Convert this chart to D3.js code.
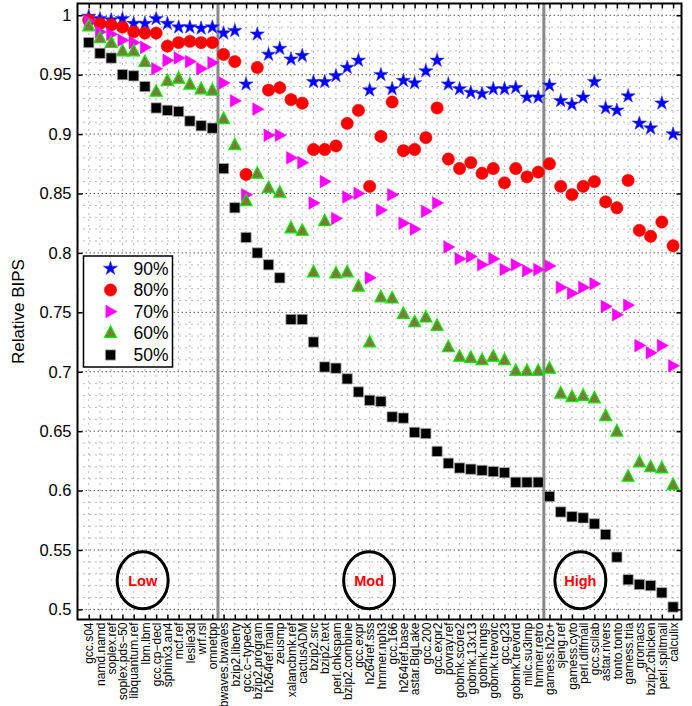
<!DOCTYPE html>
<html>
<head>
<meta charset="utf-8">
<script src="https://d3js.org/d3.v7.min.js"></script>
<style>
  body { margin: 0; background: #fff; }
  text { font-family: "Liberation Sans", Arial, sans-serif; }
</style>
</head>
<body>
<div id="chart"></div>
<script>

// benchmark names, left to right
var categories = ["gcc.s04", "namd.namd", "soplex.ref", "soplex.pds\u221250", "libquantum.ref", "lbm.lbm",
  "gcc.cp\u2212decl", "sphinx3.an4", "mcf.ref", "leslie3d", "wrf.rsl", "omnetpp",
  "bwaves.bwaves", "bzip2.liberty", "gcc.c\u2212typeck", "bzip2.program", "h264ref.main", "zeusmp",
  "xalancbmk.ref", "cactusADM", "bzip2.src", "bzip2.text", "perl.chkspam", "bzip2.combine",
  "gcc.expr", "h264ref.sss", "hmmer.nph3", "gcc.166", "h264ref.base", "astar.BigLake",
  "gcc.200", "gcc.expr2", "povray.ref", "gobmk.score2", "gobmk.13x13", "gobmk.nngs",
  "gobmk.trevorc", "gcc.g23", "gobmk.trevord", "milc.su3imp", "hmmer.retro",
  "gamess.h2o+", "sjeng.ref", "gamess.cyto", "perl.diffmail", "gcc.scilab", "astar.rivers",
  "tonto.tonto", "gamess.tria", "gromacs", "bzip2.chicken", "perl.splitmail", "calculix"];

var bips90 = [0.999, 0.997, 0.996, 0.997, 0.993, 0.993, 0.997, 0.993, 0.990, 0.990, 0.989, 0.990,
  0.985, 0.987, 0.942, 0.984, 0.967, 0.972, 0.963, 0.966, 0.944, 0.944, 0.949, 0.956,
  0.962, 0.937, 0.950, 0.938, 0.945, 0.943, 0.953, 0.962, 0.942, 0.938, 0.935, 0.934,
  0.938, 0.938, 0.939, 0.931, 0.931, 0.941, 0.928, 0.925, 0.931, 0.944, 0.922, 0.920,
  0.932, 0.909, 0.905, 0.926, 0.900];

var bips80 = [0.996, 0.993, 0.992, 0.990, 0.986, 0.985, 0.985, 0.974, 0.977, 0.978, 0.977, 0.977,
  0.967, 0.961, 0.866, 0.956, 0.937, 0.939, 0.929, 0.926, 0.887, 0.887, 0.890, 0.909,
  0.920, 0.856, 0.898, 0.927, 0.886, 0.887, 0.897, 0.922, 0.879, 0.871, 0.876, 0.867,
  0.871, 0.859, 0.871, 0.864, 0.868, 0.875, 0.856, 0.849, 0.856, 0.860, 0.843, 0.838,
  0.861, 0.819, 0.814, 0.826, 0.806];

var bips70 = [0.995, 0.986, 0.984, 0.979, 0.977, 0.973, 0.955, 0.962, 0.964, 0.961, 0.955, 0.960,
  0.943, 0.928, 0.849, 0.921, 0.899, 0.899, 0.880, 0.876, 0.842, 0.860, 0.829, 0.847,
  0.850, 0.779, 0.836, 0.849, 0.825, 0.820, 0.835, 0.842, 0.805, 0.795, 0.797, 0.790,
  0.795, 0.786, 0.790, 0.785, 0.786, 0.789, 0.771, 0.766, 0.771, 0.774, 0.755, 0.748,
  0.756, 0.722, 0.716, 0.722, 0.705];

var bips60 = [0.991, 0.981, 0.977, 0.970, 0.970, 0.961, 0.936, 0.945, 0.947, 0.942, 0.938, 0.937,
  0.913, 0.891, 0.844, 0.867, 0.855, 0.851, 0.821, 0.819, 0.784, 0.827, 0.783, 0.784,
  0.772, 0.725, 0.763, 0.762, 0.749, 0.742, 0.746, 0.739, 0.721, 0.713, 0.712, 0.710,
  0.713, 0.710, 0.701, 0.701, 0.701, 0.703, 0.682, 0.679, 0.680, 0.678, 0.663, 0.650,
  0.612, 0.624, 0.620, 0.619, 0.605];

var bips50 = [0.977, 0.968, 0.964, 0.950, 0.949, 0.940, 0.922, 0.920, 0.919, 0.911, 0.907, 0.905,
  0.871, 0.838, 0.813, 0.800, 0.790, 0.779, 0.744, 0.744, 0.725, 0.704, 0.703, 0.694,
  0.683, 0.676, 0.675, 0.662, 0.661, 0.649, 0.648, 0.633, 0.623, 0.619, 0.618, 0.617,
  0.616, 0.615, 0.607, 0.607, 0.607, 0.595, 0.582, 0.578, 0.577, 0.572, 0.563, 0.544,
  0.525, 0.521, 0.520, 0.514, 0.502];

var seriesNames = ["90%", "80%", "70%", "60%", "50%"];
var yTicks = [0.5, 0.55, 0.6, 0.65, 0.7, 0.75, 0.8, 0.85, 0.9, 0.95, 1];

// group boundaries (between benchmarks) and the circled group labels
var groupBreaks = [12.5, 41.5];
var groupLabels = ["Low", "Mod", "High"];
var groupLabelX = [5.8, 25.95, 44.75];
var groupLabelY = 0.5245;

var width = 692, height = 706;
// note: "top" is taken by window.top, so prefix the plot edges
var pLeft = 77.5, pRight = 681.5, pTop = 3.5, pBottom = 619.5;

var svg = d3.select("#chart").append("svg")
  .attr("width", width)
  .attr("height", height);

var x = d3.scaleLinear().domain([0, 53.75]).range([pLeft, pRight]);
var y = d3.scaleLinear().domain([0.4915, 1.0099]).range([pBottom, pTop]);

var idx = d3.range(1, categories.length + 1);

// dotted grid
var grid = svg.append("g");
grid.selectAll(".vg").data(idx).enter().append("line")
  .attr("x1", d => x(d)).attr("x2", d => x(d))
  .attr("y1", pTop).attr("y2", pBottom)
  .attr("stroke", "#666").attr("stroke-width", 0.9)
  .attr("stroke-dasharray", "1,5");

var minor = d3.range(50, 101).map(d => d / 100).filter(d => Math.round(d * 100) % 5 != 0);
grid.selectAll(".hg").data(minor).enter().append("line")
  .attr("x1", pLeft).attr("x2", pRight)
  .attr("y1", d => y(d)).attr("y2", d => y(d))
  .attr("stroke", "#666").attr("stroke-width", 0.9)
  .attr("stroke-dasharray", "1,5");

grid.selectAll(".hm").data(yTicks).enter().append("line")
  .attr("x1", pLeft).attr("x2", pRight)
  .attr("y1", d => y(d)).attr("y2", d => y(d))
  .attr("stroke", "#444").attr("stroke-width", 0.9)
  .attr("stroke-dasharray", "1.5,2.5");

// group separators
svg.selectAll(".sep").data(groupBreaks).enter().append("line")
  .attr("x1", d => x(d)).attr("x2", d => x(d))
  .attr("y1", pTop).attr("y2", pBottom)
  .attr("stroke", "#888").attr("stroke-width", 3);

// marker shapes
var starPath = d3.symbol().type(d3.symbolStar).size(62)();
var circlePath = d3.symbol().type(d3.symbolCircle).size(120)();
var squarePath = d3.symbol().type(d3.symbolSquare).size(105)();
var rightTri = "M-4.6,-6.3L6.6,0L-4.6,6.3Z";
var upTri = "M0,-6.6L6,4.9L-6,4.9Z";

var series = [
  { name: seriesNames[0], values: bips90, path: starPath, fill: "#0000ff", stroke: "#3333ff", sw: 0.6 },
  { name: seriesNames[1], values: bips80, path: circlePath, fill: "#ff0000", stroke: "#ff0000", sw: 0.5 },
  { name: seriesNames[2], values: bips70, path: rightTri, fill: "#ff00ff", stroke: "#ff00ff", sw: 0.5 },
  { name: seriesNames[3], values: bips60, path: upTri, fill: "#7d7a38", stroke: "#00ee00", sw: 1.2 },
  { name: seriesNames[4], values: bips50, path: squarePath, fill: "#000000", stroke: "#aaaaaa", sw: 0.8 }
];

series.forEach(function(s) {
  svg.append("g").selectAll("path").data(s.values).enter().append("path")
    .attr("d", s.path)
    .attr("transform", (d, i) => "translate(" + x(i + 1) + "," + y(d) + ")")
    .attr("fill", s.fill)
    .attr("stroke", s.stroke)
    .attr("stroke-width", s.sw);
});

// circled group labels
groupLabels.forEach(function(lab, i) {
  svg.append("ellipse")
    .attr("cx", x(groupLabelX[i])).attr("cy", y(groupLabelY))
    .attr("rx", 25.5).attr("ry", 28.5)
    .attr("fill", "none").attr("stroke", "#000").attr("stroke-width", 3);
  svg.append("text")
    .attr("x", x(groupLabelX[i])).attr("y", y(groupLabelY))
    .attr("dy", "0.36em")
    .attr("text-anchor", "middle")
    .attr("fill", "#ff0000")
    .attr("font-weight", "bold")
    .attr("font-size", 14.5)
    .text(lab);
});

// axes, ticks pointing inward
var xAxis = d3.axisBottom(x).tickValues(idx).tickSizeInner(-5).tickSizeOuter(0)
  .tickFormat(d => categories[d - 1]);
var gx = svg.append("g").attr("transform", "translate(0," + pBottom + ")").call(xAxis);
gx.selectAll("text")
  .attr("transform", "rotate(-90)")
  .attr("x", -3).attr("y", 0).attr("dy", "0.35em")
  .attr("text-anchor", "end")
  .attr("font-size", 12)
  .attr("fill", "#000");

var gxTop = svg.append("g").attr("transform", "translate(0," + pTop + ")")
  .call(d3.axisTop(x).tickValues(idx).tickSizeInner(-5).tickSizeOuter(0).tickFormat(""));

var yAxis = d3.axisLeft(y).tickValues(yTicks).tickSizeInner(-5).tickSizeOuter(0).tickPadding(6)
  .tickFormat(d => String(+d.toFixed(2)));
var gy = svg.append("g").attr("transform", "translate(" + pLeft + ",0)").call(yAxis);
gy.selectAll("text").attr("font-size", 16.5).attr("fill", "#000");

var gyRight = svg.append("g").attr("transform", "translate(" + pRight + ",0)")
  .call(d3.axisRight(y).tickValues(yTicks).tickSizeInner(-5).tickSizeOuter(0).tickFormat(""));

[gx, gxTop, gy, gyRight].forEach(function(g) {
  g.select(".domain").remove();
  g.selectAll(".tick line").attr("stroke", "#000").attr("stroke-width", 1.5);
});

// frame
svg.append("rect")
  .attr("x", pLeft).attr("y", pTop)
  .attr("width", pRight - pLeft).attr("height", pBottom - pTop)
  .attr("fill", "none").attr("stroke", "#000").attr("stroke-width", 2);

svg.append("text")
  .attr("transform", "translate(24," + (pTop + pBottom) / 2 + ") rotate(-90)")
  .attr("text-anchor", "middle")
  .attr("font-size", 17)
  .text("Relative BIPS");

// legend
var legend = svg.append("g").attr("transform", "translate(83.5,256)");
legend.append("rect")
  .attr("width", 89).attr("height", 111)
  .attr("fill", "#fff").attr("stroke", "#000").attr("stroke-width", 1.5);

var rowY = [12.5, 34, 55.5, 76.5, 99];
series.forEach(function(s, i) {
  legend.append("path")
    .attr("d", s.path)
    .attr("transform", "translate(27," + rowY[i] + ")")
    .attr("fill", s.fill).attr("stroke", s.stroke).attr("stroke-width", s.sw);
  legend.append("text")
    .attr("x", 50).attr("y", rowY[i]).attr("dy", "0.36em")
    .attr("font-size", 17.5)
    .text(s.name);
});

</script>
</body>
</html>
